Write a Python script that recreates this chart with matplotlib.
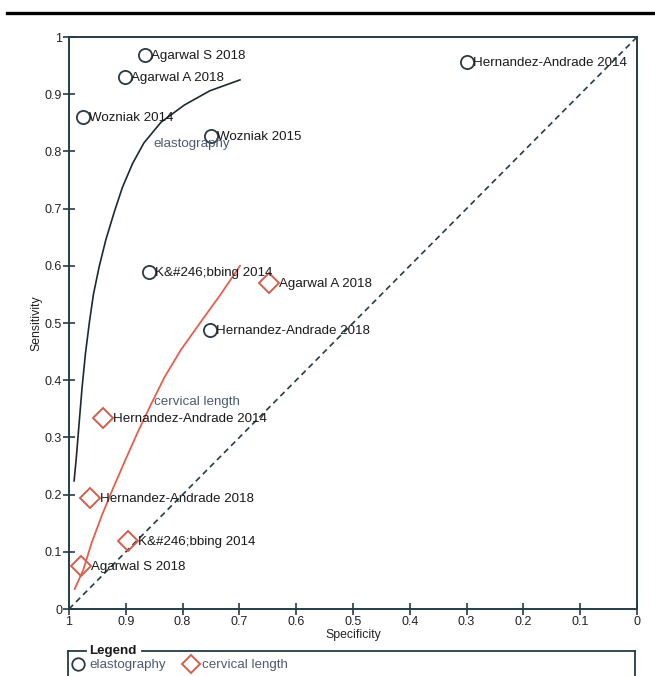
import matplotlib
matplotlib.use("Agg")
import matplotlib.pyplot as plt
from matplotlib.lines import Line2D

plt.rcParams['font.family'] = ['Liberation Sans', 'DejaVu Sans']

# Study estimates: (specificity, sensitivity)
elasto_studies = ["Agarwal S 2018", "Agarwal A 2018", "Wozniak 2014", "Wozniak 2015",
                  "Hernandez-Andrade 2014", "K&#246;bbing 2014", "Hernandez-Andrade 2018"]
elasto_spec = [0.866, 0.902, 0.975, 0.750, 0.299, 0.859, 0.752]
elasto_sens = [0.969, 0.930, 0.860, 0.827, 0.956, 0.589, 0.488]

cl_studies = ["Agarwal A 2018", "Hernandez-Andrade 2014", "Hernandez-Andrade 2018",
              "K&#246;bbing 2014", "Agarwal S 2018"]
cl_spec = [0.648, 0.940, 0.963, 0.896, 0.979]
cl_sens = [0.570, 0.334, 0.194, 0.119, 0.075]

# Summary ROC curves
elasto_curve_spec = [0.991, 0.987, 0.982, 0.977, 0.971, 0.964, 0.957, 0.947, 0.935,
                     0.920, 0.906, 0.888, 0.868, 0.838, 0.797, 0.752, 0.699]
elasto_curve_sens = [0.224, 0.266, 0.327, 0.387, 0.447, 0.502, 0.550, 0.598, 0.646,
                     0.695, 0.737, 0.779, 0.815, 0.851, 0.881, 0.906, 0.925]
cl_curve_spec = [0.990, 0.975, 0.960, 0.942, 0.922, 0.901, 0.879, 0.856, 0.832,
                 0.803, 0.768, 0.733, 0.699]
cl_curve_sens = [0.035, 0.068, 0.116, 0.164, 0.212, 0.260, 0.309, 0.357, 0.405,
                 0.453, 0.502, 0.550, 0.600]

ticks = [1, 0.9, 0.8, 0.7, 0.6, 0.5, 0.4, 0.3, 0.2, 0.1, 0]
tick_labels = ["1", "0.9", "0.8", "0.7", "0.6", "0.5", "0.4", "0.3", "0.2", "0.1", "0"]

W, H = 655, 676
DARK = '#263c46'
CIRC = '#2b3a42'
RED = '#e2604f'
DIAM = '#d2604f'
CURVE_LBL = '#4d5b72'
FS = 9.6

fig = plt.figure(figsize=(W / 100, H / 100), dpi=100)
fig.patch.set_facecolor('white')

def fx(px):
    return px / W

def fy(py):
    return 1 - py / H

ax = fig.add_axes([fx(69), fy(609), (637 - 69) / W, (609 - 37) / H])
ax.set_xlim(1, 0)
ax.set_ylim(0, 1)

# chance line
ax.plot([1, 0], [0, 1], linestyle=(0, (3.5, 2.5)), color=DARK, lw=1.2, zorder=1)

# summary curves
ax.plot(elasto_curve_spec, elasto_curve_sens, color='#1c2a30', lw=1.2, zorder=2,
        solid_joinstyle='round')
ax.plot(cl_curve_spec, cl_curve_sens, color=RED, lw=1.3, zorder=2,
        solid_joinstyle='round')

ax.plot(elasto_spec, elasto_sens, linestyle='none', marker='o', ms=9.5,
        mfc='none', mec=CIRC, mew=1.3, zorder=3)
ax.plot(cl_spec, cl_sens, linestyle='none', marker='D', ms=10,
        mfc='none', mec=DIAM, mew=1.4, zorder=3)

for name, s, t in zip(elasto_studies, elasto_spec, elasto_sens):
    ax.annotate(name, (s, t), xytext=(6, -1), textcoords='offset pixels',
                ha='left', va='center', fontsize=FS, color='#1a1a1a', zorder=4)
for name, s, t in zip(cl_studies, cl_spec, cl_sens):
    ax.annotate(name, (s, t), xytext=(10, -1), textcoords='offset pixels',
                ha='left', va='center', fontsize=FS, color='#1a1a1a', zorder=4)

ax.text(0.851, 0.813, "elastography", ha='left', va='center', fontsize=FS, color=CURVE_LBL)
ax.text(0.851, 0.362, "cervical length", ha='left', va='center', fontsize=FS, color=CURVE_LBL)

ax.set_xticks(ticks)
ax.set_xticklabels(tick_labels)
ax.set_yticks(ticks)
ax.set_yticklabels(tick_labels)
ax.tick_params(direction='inout', length=8, width=1.2, color=DARK,
               labelsize=9, labelcolor='#222222', pad=1)
for sp in ax.spines.values():
    sp.set_color(DARK)
    sp.set_linewidth(1.4)

ax.set_xlabel("Specificity", fontsize=8.8, color='#222222', labelpad=1)
ax.set_ylabel("Sensitivity", fontsize=8.8, color='#222222', labelpad=2)

# top rule
fig.add_artist(Line2D([fx(7), fx(655)], [fy(13), fy(13)], color='black', lw=2.4))

# legend frame
lc = DARK
fig.add_artist(Line2D([fx(68), fx(68)], [fy(651), fy(690)], color=lc, lw=1.3))
fig.add_artist(Line2D([fx(635), fx(635)], [fy(651), fy(690)], color=lc, lw=1.3))
fig.add_artist(Line2D([fx(68), fx(86)], [fy(651), fy(651)], color=lc, lw=1.3))
fig.add_artist(Line2D([fx(142), fx(635)], [fy(651), fy(651)], color=lc, lw=1.3))
fig.text(fx(89), fy(651), "Legend", ha='left', va='center', fontsize=9.6,
         fontweight='bold', color='#1a1a1a')
fig.add_artist(Line2D([fx(78)], [fy(664)], marker='o', ms=9, mfc='none',
                      mec=CIRC, mew=1.3, linestyle='none'))
fig.text(fx(89), fy(665), "elastography", ha='left', va='center', fontsize=FS, color=CURVE_LBL)
fig.add_artist(Line2D([fx(191)], [fy(664)], marker='D', ms=9.5, mfc='none',
                      mec=DIAM, mew=1.4, linestyle='none'))
fig.text(fx(202), fy(665), "cervical length", ha='left', va='center', fontsize=FS, color=CURVE_LBL)

fig.savefig("out.png", dpi=100, facecolor='white')
